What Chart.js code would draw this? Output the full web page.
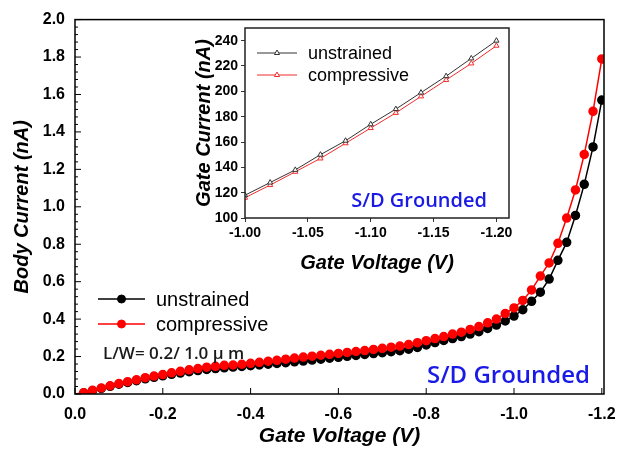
<!DOCTYPE html>
<html>
<head>
<meta charset="utf-8">
<script src="https://cdn.jsdelivr.net/npm/chart.js@4.4.0/dist/chart.umd.min.js"></script>
<style>
  body { margin: 0; background: #fff; }
  #wrap { position: relative; width: 628px; height: 450px; }
  #mainChart { position: absolute; left: 0; top: 0; }
  #insetChart { position: absolute; left: 170px; top: 15px; }
</style>
</head>
<body>
<div id="wrap">
  <canvas id="mainChart" width="628" height="450"></canvas>
  <canvas id="insetChart" width="350" height="265"></canvas>
</div>
<script>
// main plot: body current vs gate voltage
const mainVoltage = [0, -0.02, -0.04, -0.06, -0.08, -0.10, -0.12, -0.14, -0.16, -0.18,
  -0.20, -0.22, -0.24, -0.26, -0.28, -0.30, -0.32, -0.34, -0.36, -0.38,
  -0.40, -0.42, -0.44, -0.46, -0.48, -0.50, -0.52, -0.54, -0.56, -0.58,
  -0.60, -0.62, -0.64, -0.66, -0.68, -0.70, -0.72, -0.74, -0.76, -0.78,
  -0.80, -0.82, -0.84, -0.86, -0.88, -0.90, -0.92, -0.94, -0.96, -0.98,
  -1.00, -1.02, -1.04, -1.06, -1.08, -1.10, -1.12, -1.14, -1.16, -1.18, -1.20];
const mainUnstrained = [0, 0.006, 0.018, 0.030, 0.041, 0.052, 0.062, 0.071, 0.081, 0.089,
  0.097, 0.105, 0.112, 0.119, 0.125, 0.131, 0.136, 0.140, 0.144, 0.147,
  0.151, 0.155, 0.159, 0.163, 0.167, 0.172, 0.176, 0.181, 0.186, 0.191,
  0.196, 0.201, 0.206, 0.211, 0.216, 0.221, 0.226, 0.231, 0.239, 0.249,
  0.262, 0.275, 0.286, 0.296, 0.307, 0.320, 0.333, 0.350, 0.368, 0.390,
  0.416, 0.450, 0.495, 0.544, 0.614, 0.714, 0.810, 0.954, 1.120, 1.320, 1.570];
const mainCompressive = [0, 0.007, 0.020, 0.032, 0.044, 0.056, 0.066, 0.076, 0.087, 0.096,
  0.104, 0.113, 0.121, 0.129, 0.136, 0.143, 0.148, 0.153, 0.155, 0.159,
  0.164, 0.169, 0.175, 0.180, 0.186, 0.192, 0.197, 0.202, 0.207, 0.212,
  0.217, 0.222, 0.227, 0.232, 0.238, 0.244, 0.250, 0.256, 0.264, 0.274,
  0.285, 0.296, 0.307, 0.320, 0.330, 0.345, 0.360, 0.380, 0.400, 0.430,
  0.460, 0.500, 0.556, 0.630, 0.700, 0.805, 0.940, 1.090, 1.280, 1.510, 1.790];
const mainXTicks = [0, -0.2, -0.4, -0.6, -0.8, -1.0, -1.2];
const mainYTicks = [0, 0.2, 0.4, 0.6, 0.8, 1.0, 1.2, 1.4, 1.6, 1.8, 2.0];

// inset: gate current
const insetVoltage = [-1.00, -1.02, -1.04, -1.06, -1.08, -1.10, -1.12, -1.14, -1.16, -1.18, -1.20];
const insetUnstrained = [118, 128, 138, 150, 161, 174, 186, 199, 212, 226, 240];
const insetCompressive = [116, 126, 136.5, 147, 159, 171, 183, 196, 209, 222, 236];
const insetXTicks = [-1.00, -1.05, -1.10, -1.15, -1.20];
const insetYTicks = [100, 120, 140, 160, 180, 200, 220, 240];

Chart.defaults.font.family = '"Liberation Sans", Arial, sans-serif';
Chart.defaults.color = '#000';

const toPoints = (xs, ys) => xs.map((x, i) => ({ x: x, y: ys[i] }));

function drawLegendRow(ctx, ds, x0, x1, y, text, font, radius) {
  ctx.strokeStyle = ds.borderColor;
  ctx.lineWidth = ds.borderWidth;
  ctx.beginPath();
  ctx.moveTo(x0, y); ctx.lineTo(x1, y);
  ctx.stroke();
  ctx.fillStyle = ds.pointBackgroundColor;
  ctx.lineWidth = 1;
  Chart.helpers.drawPoint(ctx, { pointStyle: ds.pointStyle, radius: radius, rotation: 0, borderWidth: 1 }, (x0 + x1) / 2, y);
  ctx.fillStyle = '#000';
  ctx.font = font;
  ctx.textBaseline = 'middle';
  ctx.textAlign = 'left';
  ctx.fillText(text, x1 + 11, y + 1);
}

const mainDecor = {
  id: 'mainDecor',
  afterDraw(chart) {
    const { ctx, chartArea: a, scales: { x, y } } = chart;
    ctx.save();
    ctx.strokeStyle = '#000';
    ctx.lineWidth = 1.5;
    ctx.strokeRect(a.left, a.top, a.right - a.left, a.bottom - a.top);
    ctx.lineWidth = 1;
    ctx.beginPath();
    mainYTicks.forEach((v, i) => {
      const py = y.getPixelForValue(v);
      ctx.moveTo(a.left, py); ctx.lineTo(a.left + 6, py);
      if (i < mainYTicks.length - 1) {
        const step = (mainYTicks[i + 1] - v) / 5;
        for (let k = 1; k < 5; k++) {
          const my = y.getPixelForValue(v + step * k);
          ctx.moveTo(a.left, my); ctx.lineTo(a.left + 3, my);
        }
      }
    });
    mainXTicks.forEach(v => {
      const px = x.getPixelForValue(v);
      ctx.moveTo(px, a.bottom); ctx.lineTo(px, a.bottom - 6);
    });
    ctx.stroke();

    const ds = chart.data.datasets;
    drawLegendRow(ctx, ds[0], 98, 145, 299, 'unstrained', '20px "Liberation Sans", Arial', 4);
    drawLegendRow(ctx, ds[1], 98, 145, 324, 'compressive', '20px "Liberation Sans", Arial', 4);

    ctx.fillStyle = '#1a1a1a';
    ctx.font = '600 17px "Open Sans", sans-serif';
    ctx.fillText('L/W= 0.2/ 1.0 \u03bc m', 103, 354);

    ctx.fillStyle = '#1a1ae6';
    ctx.font = '600 24px "Open Sans", sans-serif';
    ctx.textAlign = 'right';
    ctx.fillText('S/D Grounded', 590, 376);
    ctx.restore();
  }
};

new Chart(document.getElementById('mainChart'), {
  type: 'line',
  data: {
    datasets: [
      {
        label: 'unstrained',
        data: toPoints(mainVoltage, mainUnstrained),
        borderColor: '#000',
        backgroundColor: '#000',
        pointBackgroundColor: '#000',
        pointBorderColor: '#000',
        pointStyle: 'circle',
        borderWidth: 1.5,
        pointRadius: c => (c.dataIndex === 0 ? 0 : 4),
        order: 1
      },
      {
        label: 'compressive',
        data: toPoints(mainVoltage, mainCompressive),
        borderColor: '#ff0000',
        backgroundColor: '#ff0000',
        pointBackgroundColor: '#ff0000',
        pointBorderColor: '#ff0000',
        pointStyle: 'circle',
        borderWidth: 1.5,
        pointRadius: c => (c.dataIndex === 0 ? 0 : 4),
        order: 0
      }
    ]
  },
  options: {
    responsive: false,
    devicePixelRatio: 1,
    animation: false,
    layout: { padding: { left: 0, top: 14, right: 24, bottom: 0 } },
    plugins: { legend: { display: false }, tooltip: { enabled: false } },
    scales: {
      x: {
        type: 'linear', reverse: true, min: -1.205, max: 0,
        afterBuildTicks: s => { s.ticks = mainXTicks.map(v => ({ value: v })); },
        afterFit: s => { s.height = 56; },
        grid: { display: false, drawTicks: false }, border: { display: false },
        ticks: { autoSkip: false, maxRotation: 0, padding: 11, font: { size: 16, weight: 'bold' }, callback: v => v.toFixed(1) },
        title: { display: true, text: 'Gate Voltage (V)', font: { size: 21, weight: 'bold', style: 'italic', lineHeight: 1.2 }, padding: { top: 0, bottom: 1 } }
      },
      y: {
        type: 'linear', min: 0, max: 2,
        afterBuildTicks: s => { s.ticks = mainYTicks.map(v => ({ value: v })); },
        afterFit: s => { s.width = 75; },
        grid: { display: false, drawTicks: false }, border: { display: false },
        ticks: { autoSkip: false, padding: 10, font: { size: 16, weight: 'bold' }, callback: v => v.toFixed(1) },
        title: { display: true, text: 'Body Current (nA)', font: { size: 20, weight: 'bold', style: 'italic', lineHeight: 1.2 }, padding: { top: 10, bottom: 0 } }
      }
    }
  },
  plugins: [mainDecor]
});

const insetDecor = {
  id: 'insetDecor',
  afterDraw(chart) {
    const { ctx, chartArea: a } = chart;
    ctx.save();
    ctx.strokeStyle = '#222';
    ctx.lineWidth = 1.5;
    ctx.strokeRect(a.left, a.top, a.right - a.left, a.bottom - a.top);
    const ds = chart.data.datasets;
    drawLegendRow(ctx, ds[0], 87, 127, 38, 'unstrained', '18px "Liberation Sans", Arial', 3);
    drawLegendRow(ctx, ds[1], 87, 127, 60, 'compressive', '18px "Liberation Sans", Arial', 3);
    ctx.fillStyle = '#1a1ae6';
    ctx.font = '600 20px "Open Sans", sans-serif';
    ctx.textAlign = 'right';
    ctx.fillText('S/D Grounded', 317, 186);
    ctx.restore();
  }
};

new Chart(document.getElementById('insetChart'), {
  type: 'line',
  data: {
    datasets: [
      {
        label: 'unstrained',
        data: toPoints(insetVoltage, insetUnstrained),
        borderColor: '#333',
        pointBorderColor: '#333',
        pointBackgroundColor: '#fff',
        pointStyle: 'triangle',
        pointRadius: 3,
        pointBorderWidth: 1,
        borderWidth: 1
      },
      {
        label: 'compressive',
        data: toPoints(insetVoltage, insetCompressive),
        borderColor: '#f02a2a',
        pointBorderColor: '#f02a2a',
        pointBackgroundColor: '#fff',
        pointStyle: 'triangle',
        pointRadius: 3,
        pointBorderWidth: 1,
        borderWidth: 1
      }
    ]
  },
  options: {
    responsive: false,
    devicePixelRatio: 1,
    animation: false,
    layout: { padding: { left: 0, top: 13, right: 11, bottom: 0 } },
    plugins: { legend: { display: false }, tooltip: { enabled: false } },
    scales: {
      x: {
        type: 'linear', reverse: true, min: -1.21, max: -1.0,
        afterBuildTicks: s => { s.ticks = insetXTicks.map(v => ({ value: v })); },
        afterFit: s => { s.height = 62; },
        grid: { drawOnChartArea: false, tickLength: 4, color: '#333' }, border: { display: false },
        ticks: { autoSkip: false, maxRotation: 0, padding: 3, font: { size: 14, weight: 'bold' }, callback: v => v.toFixed(2) },
        title: { display: true, text: 'Gate Voltage (V)', font: { size: 20, weight: 'bold', style: 'italic', lineHeight: 1.2 }, padding: { top: 0, bottom: 5 } }
      },
      y: {
        type: 'linear', min: 100, max: 250,
        afterBuildTicks: s => { s.ticks = insetYTicks.map(v => ({ value: v })); },
        afterFit: s => { s.width = 75; },
        grid: { drawOnChartArea: false, tickLength: 4, color: '#333' }, border: { display: false },
        ticks: { autoSkip: false, padding: 3, font: { size: 14, weight: 'bold' } },
        title: { display: true, text: 'Gate Current (nA)', font: { size: 20, weight: 'bold', style: 'italic', lineHeight: 1.2 }, padding: { top: 22, bottom: 0 } }
      }
    }
  },
  plugins: [insetDecor]
});
</script>
</body>
</html>
